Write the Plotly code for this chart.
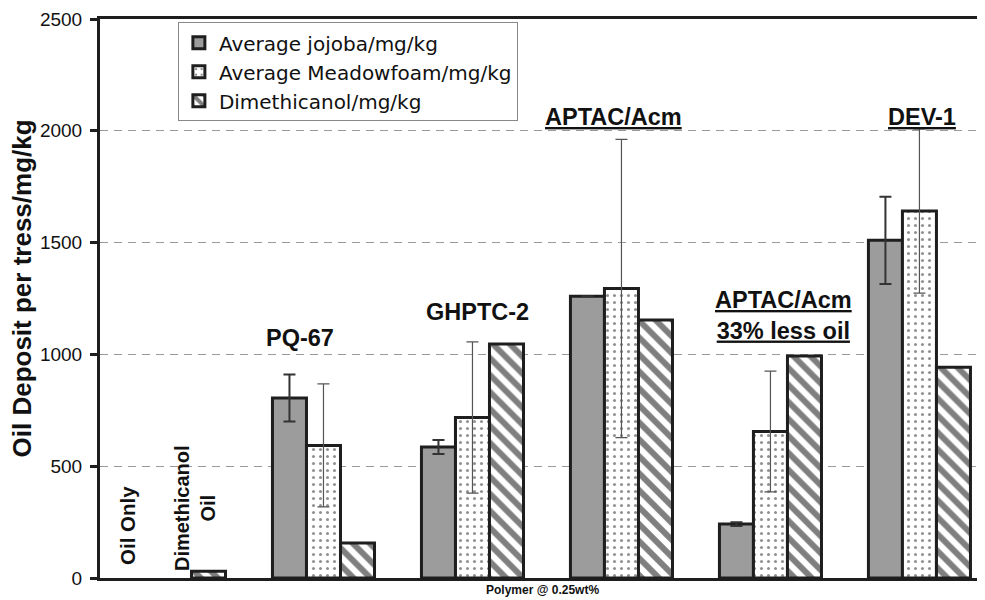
import plotly.graph_objects as go

# ---------------- data ----------------
categories = ["Oil Only / Dimethicanol Oil", "PQ-67", "GHPTC-2", "APTAC/Acm",
              "APTAC/Acm 33% less oil", "DEV-1"]
jojoba = [None, 805, 586, 1260, 241, 1510]
jojoba_err = [0, 105, 31, 0, 8, 195]
meadowfoam = [None, 593, 718, 1295, 655, 1641]
meadowfoam_err = [0, 275, 338, 667, 270, 367]
dimethicanol = [30, 157, 1046, 1154, 993, 942]
series_names = ["Average jojoba/mg/kg", "Average Meadowfoam/mg/kg", "Dimethicanol/mg/kg"]
y_ticks = [0, 500, 1000, 1500, 2000, 2500]

FONT = "Liberation Sans, Arial, sans-serif"
LEG_FONT = "DejaVu Sans, sans-serif"
DARK = "#1e1e1e"
idx = list(range(len(categories)))

fig = go.Figure()
fig.add_trace(go.Bar(
    x=idx, y=jojoba, name=series_names[0],
    marker=dict(color="#9c9c9c", line=dict(color=DARK, width=3)),
    error_y=dict(type="data", array=jojoba_err, visible=True,
                 color="#333333", thickness=2, width=6),
))
fig.add_trace(go.Bar(
    x=idx, y=meadowfoam, name=series_names[1],
    marker=dict(color="white", line=dict(color=DARK, width=3),
                pattern=dict(shape=".", fgcolor="#222222", bgcolor="white",
                             size=7, solidity=0.15)),
    error_y=dict(type="data", array=meadowfoam_err, visible=True,
                 color="#555555", thickness=1.2, width=6),
))
fig.add_trace(go.Bar(
    x=idx, y=dimethicanol, name=series_names[2],
    marker=dict(color="white", line=dict(color=DARK, width=3),
                pattern=dict(shape="\\", fgcolor="#000000", bgcolor="white",
                             size=12, solidity=0.5)),
))

# page body has an 8px margin: figure is offset by (8, 8)
fig.update_layout(
    width=977, height=592,
    margin=dict(l=92, r=0, t=11, b=22),
    paper_bgcolor="white", plot_bgcolor="white",
    barmode="group", bargap=0.315, bargroupgap=0,
    font=dict(family=FONT, color="#111111"),
    showlegend=True,
    legend=dict(x=0.088, y=0.994, xanchor="left", yanchor="top",
                bgcolor="white", bordercolor="#888888", borderwidth=1,
                font=dict(size=20, family=LEG_FONT, color="#111111"),
                traceorder="normal", tracegroupgap=0,
                itemwidth=30),
    xaxis=dict(range=[-0.5, 5.44], showticklabels=False, ticks="",
               showgrid=False, zeroline=False,
               showline=True, linecolor=DARK, linewidth=3, mirror=True,
               fixedrange=True),
    yaxis=dict(range=[0, 2500], tickvals=y_ticks, ticks="outside", ticklen=7,
               tickwidth=3, tickcolor=DARK, ticklabelstandoff=4,
               tickfont=dict(size=19, family=FONT, color="#111111"),
               showline=True, linecolor=DARK, linewidth=3,
               showgrid=True, gridcolor="#9a9a9a", gridwidth=1.2,
               griddash="8px,6px", zeroline=False),
)

ann = []
def label(x, y, text, size=23.5, xshift=0, angle=0):
    ann.append(dict(x=x, y=y, xref="x", yref="y", text=text, showarrow=False,
                    textangle=angle, xshift=xshift,
                    font=dict(size=size, family=FONT, color="#111111")))

label(0, 235, "<b>Oil Only</b>", size=20.5, xshift=-47, angle=-90)
label(0, 315, "<b>Dimethicanol<br>Oil</b>", size=20, xshift=20, angle=-90)
label(1, 1073, "<b>PQ-67</b>", xshift=-23)
label(2, 1190, "<b>GHPTC-2</b>", xshift=5)
label(3, 2062, "<b><u>APTAC/Acm</u></b>", xshift=-8)
label(4, 1176, "<b><u>APTAC/Acm</u><br><u>33% less oil</u></b>", xshift=13)
label(5, 2062, "<b><u>DEV-1</u></b>", xshift=3)

ann.append(dict(x=0.5, y=0, xref="paper", yref="paper", text="<b>Polymer @ 0.25wt%</b>",
                showarrow=False, yshift=-12, yanchor="middle", xanchor="center",
                font=dict(size=12, family=FONT, color="#111111")))
ann.append(dict(x=0, y=0.5, xref="paper", yref="paper",
                text="<b>Oil Deposit per tress/mg/kg</b>", showarrow=False,
                textangle=-90, xshift=-79, yshift=10,
                xanchor="center", yanchor="middle",
                font=dict(size=26, family=FONT, color="#111111")))
fig.update_layout(annotations=ann)

fig.write_html("out.html")
